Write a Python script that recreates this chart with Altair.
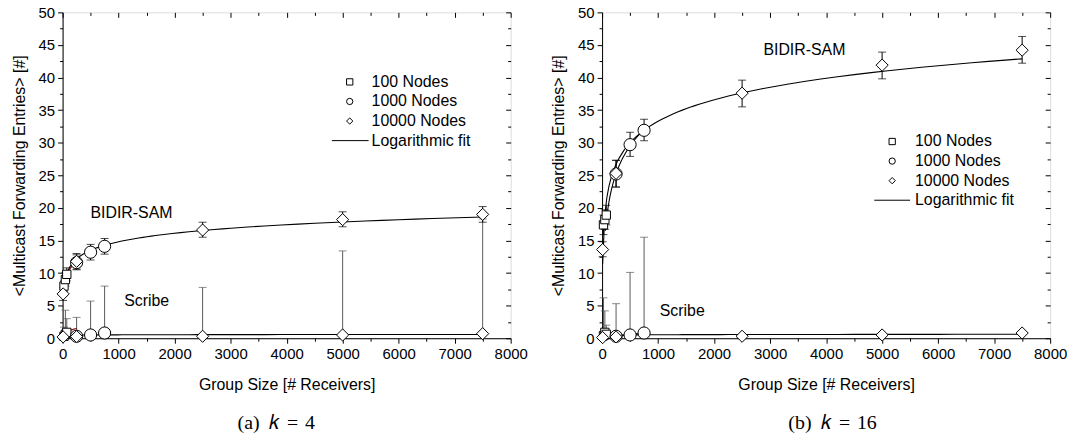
import altair as alt
import pandas as pd

# ---------------- data ----------------
SERIES = ["100 Nodes", "1000 Nodes", "10000 Nodes"]
SHAPES = ["square", "circle", "diamond"]
FIT_LABEL = "Logarithmic fit"

# panel (a) k = 4 : BIDIR-SAM
A_BIDIR = {
    "100 Nodes":   dict(x=[25, 50, 75], y=[8.0, 9.0, 9.8], lo=[7.2, 8.0, 8.8], hi=[8.8, 10.0, 10.8]),
    "1000 Nodes":  dict(x=[250, 500, 750], y=[11.6, 13.2, 14.1], lo=[10.5, 12.0, 12.9], hi=[12.8, 14.4, 15.3]),
    "10000 Nodes": dict(x=[10, 250, 2500, 5000, 7500], y=[6.8, 11.8, 16.6, 18.2, 19.0],
                        lo=[5.8, 10.6, 15.5, 17.1, 17.8], hi=[7.8, 13.0, 17.8, 19.4, 20.2]),
}
# panel (a) k = 4 : Scribe
A_SCRIBE = {
    "100 Nodes":   dict(x=[25, 50, 75], y=[0.3, 0.6, 0.9], hi=[1.7, 4.3, 3.0]),
    "1000 Nodes":  dict(x=[250, 500, 750], y=[0.3, 0.5, 0.8], hi=[None, 5.7, 8.0]),
    "10000 Nodes": dict(x=[10, 250, 2500, 5000, 7500], y=[0.2, 0.25, 0.3, 0.5, 0.7],
                        hi=[None, 3.2, 7.8, 13.4, 18.3]),
}
# panel (b) k = 16 : BIDIR-SAM
B_BIDIR = {
    "100 Nodes":   dict(x=[25, 50, 75], y=[17.4, 18.2, 18.9], lo=[15.9, 16.7, 17.4], hi=[18.9, 19.7, 20.4]),
    "1000 Nodes":  dict(x=[250, 500, 750], y=[25.2, 29.7, 31.9], lo=[23.2, 27.9, 30.3], hi=[27.3, 31.6, 33.6]),
    "10000 Nodes": dict(x=[10, 250, 2500, 5000, 7500], y=[13.6, 25.3, 37.6, 41.9, 44.2],
                        lo=[12.5, 23.2, 35.5, 39.8, 42.2], hi=[14.8, 27.3, 39.6, 43.9, 46.3]),
}
# panel (b) k = 16 : Scribe
B_SCRIBE = {
    "100 Nodes":   dict(x=[25, 50, 75], y=[0.4, 0.9, 0.6], hi=[6.2, 4.2, 2.0]),
    "1000 Nodes":  dict(x=[250, 500, 750], y=[0.3, 0.5, 0.8], hi=[None, 10.1, 15.5]),
    "10000 Nodes": dict(x=[10, 250, 2500, 5000, 7500], y=[0.1, 0.2, 0.3, 0.5, 0.8],
                        hi=[None, 5.3, None, None, None]),
}

A_TEXT = dict(label=["BIDIR-SAM", "Scribe"], x=[498, 1100], y=[19.2, 5.7])
B_TEXT = dict(label=["BIDIR-SAM", "Scribe"], x=[2880, 1030], y=[44.2, 4.2])

X_MAJOR = list(range(0, 8001, 1000))
X_MINOR = list(range(500, 8000, 1000))
Y_MAJOR = list(range(0, 51, 5))
Y_MINOR = [v + 2.5 for v in range(0, 50, 5)]

FONT = "Liberation Sans"


def to_frame(bidir, scribe):
    rows = []
    for s in SERIES:
        d = bidir[s]
        for i in range(len(d["x"])):
            rows.append(dict(group="BIDIR-SAM", series=s, x=d["x"][i], y=d["y"][i],
                             lo=d["lo"][i], hi=d["hi"][i]))
        d = scribe[s]
        for i in range(len(d["x"])):
            rows.append(dict(group="Scribe", series=s, x=d["x"][i], y=d["y"][i],
                             lo=d["y"][i], hi=d["hi"][i]))
    return pd.DataFrame(rows)


def legend_layers(leg):
    """Legend box drawn inside the plot (pixel layout of the key, not data)."""
    layers = []
    one = pd.DataFrame({"k": [0]})
    for i, (s, shp) in enumerate(zip(SERIES, SHAPES)):
        yy = leg["y0"] + i * leg["dy"]
        layers.append(alt.Chart(one).mark_point(
            shape=shp, size=40, filled=False, fill="white", color="black", strokeWidth=1, opacity=1
        ).encode(x=alt.value(leg["sym_x"]), y=alt.value(yy)))
        layers.append(alt.Chart(one).mark_text(
            align="left", baseline="middle", font=FONT, fontSize=16, color="black"
        ).encode(x=alt.value(leg["lab_x"]), y=alt.value(yy), text=alt.value(s)))
    yy = leg["y0"] + 3 * leg["dy"]
    layers.append(alt.Chart(one).mark_rule(color="black", strokeWidth=1).encode(
        x=alt.value(leg["line_x0"]), x2=alt.value(leg["line_x1"]), y=alt.value(yy)))
    layers.append(alt.Chart(one).mark_text(
        align="left", baseline="middle", font=FONT, fontSize=16, color="black"
    ).encode(x=alt.value(leg["lab_x"]), y=alt.value(yy), text=alt.value(FIT_LABEL)))
    return layers


def panel(bidir, scribe, texts, leg, extra_fit, caption, cap_dx):
    df = to_frame(bidir, scribe)
    tdf = pd.DataFrame(texts)
    xs = alt.Scale(domain=[0, 8000], nice=False, zero=False)
    ys = alt.Scale(domain=[0, 50], nice=False, zero=False)
    base = alt.Chart(df)

    x_na = alt.X("x:Q", scale=xs, axis=None)

    def yq(field):
        return alt.Y(field, type="quantitative", scale=ys, axis=None)

    bid = base.transform_filter("datum.group == 'BIDIR-SAM'")
    scr = base.transform_filter("datum.group == 'Scribe' && isValid(datum.hi)")

    err_b = bid.mark_rule(color="black", strokeWidth=1).encode(x=x_na, y=yq("lo"), y2="hi:Q")
    cap_b_hi = bid.mark_tick(orient="horizontal", size=8, thickness=1, color="black").encode(
        x=x_na, y=yq("hi"))
    cap_b_lo = bid.mark_tick(orient="horizontal", size=8, thickness=1, color="black").encode(
        x=x_na, y=yq("lo"))
    err_s = scr.mark_rule(color="#5a5a5a", strokeWidth=1).encode(x=x_na, y=yq("lo"), y2="hi:Q")
    cap_s = scr.mark_tick(orient="horizontal", size=8, thickness=1, color="#5a5a5a").encode(
        x=x_na, y=yq("hi"))

    fit = base.transform_regression(
        "x", "y", method="log", groupby=["group"], extent=[10, 7500]
    ).mark_line(strokeWidth=1.1, color="black").encode(x=x_na, y=yq("y"), detail="group:N")
    xf_series, xf_ext, xf_color = extra_fit
    fit2 = base.transform_filter(alt.datum.series == xf_series).transform_regression(
        "x", "y", method="log", groupby=["group"], extent=xf_ext
    ).mark_line(strokeWidth=1.1, color=xf_color).encode(x=x_na, y=yq("y"), detail="group:N")

    shape_enc = alt.Shape("series:N", scale=alt.Scale(domain=SERIES, range=SHAPES), legend=None)
    pts_small = base.transform_filter(alt.datum.series == "100 Nodes").mark_point(
        filled=False, fill="white", color="black", strokeWidth=1, opacity=1, size=70
    ).encode(x=x_na, y=yq("y"), shape=shape_enc)
    pts_big = base.transform_filter(alt.datum.series != "100 Nodes").mark_point(
        filled=False, fill="white", color="black", strokeWidth=1, opacity=1, size=150
    ).encode(x=x_na, y=yq("y"), shape=shape_enc)

    txt = alt.Chart(tdf).mark_text(align="left", baseline="middle", font=FONT, fontSize=16,
                                   color="black").encode(x=x_na, y=yq("y"), text="label:N")

    data_layer = alt.layer(err_s, cap_s, err_b, cap_b_hi, cap_b_lo, fit, fit2, pts_small, pts_big, txt,
                           *legend_layers(leg))

    def axis_layer(xa, ya):
        return alt.Chart(df).mark_point(opacity=0).encode(
            x=alt.X("x:Q", scale=xs, axis=xa), y=alt.Y("y:Q", scale=ys, axis=ya))

    main = axis_layer(
        alt.Axis(orient="bottom", format="d",
                 values=X_MAJOR, tickSize=5, tickColor="black", domainColor="black", grid=False,
                 labelFont=FONT, labelFontSize=15, labelColor="black", labelPadding=3, labelFlush=False,
                 title="Group Size [# Receivers]", titleFont=FONT, titleFontSize=16,
                 titleFontWeight="normal", titleColor="black", titlePadding=16),
        alt.Axis(orient="left", format="d",
                 values=Y_MAJOR, tickSize=5, tickColor="black", domainColor="black", grid=False,
                 labelFont=FONT, labelFontSize=15, labelColor="black", labelPadding=3,
                 title="<Multicast Forwarding Entries> [#]", titleFont=FONT, titleFontSize=16,
                 titleFontWeight="normal", titleColor="black", titlePadding=11))

    common = dict(labels=False, domain=False, title=None, grid=False, tickColor="black")
    minor_bl = axis_layer(alt.Axis(orient="bottom", values=X_MINOR, tickSize=3, **common),
                          alt.Axis(orient="left", values=Y_MINOR, tickSize=3, **common))
    major_tr = axis_layer(alt.Axis(orient="top", values=X_MAJOR, tickSize=5, offset=-5, **common),
                          alt.Axis(orient="right", values=Y_MAJOR, tickSize=5, offset=-5, **common))
    minor_tr = axis_layer(alt.Axis(orient="top", values=X_MINOR, tickSize=3, offset=-3, **common),
                          alt.Axis(orient="right", values=Y_MINOR, tickSize=3, offset=-3, **common))

    return alt.layer(main, minor_bl, major_tr, minor_tr, data_layer).resolve_axis(
        x="independent", y="independent"
    ).properties(
        width=451, height=328,
        title=alt.TitleParams(caption, orient="bottom", font="Liberation Serif", fontSize=20,
                              fontWeight="normal", color="black", anchor="middle", frame="bounds",
                              offset=20, dx=cap_dx),
    )


LEG_A = dict(sym_x=289, lab_x=311, y0=70, dy=19.7, line_x0=271, line_x1=308)
LEG_B = dict(sym_x=292, lab_x=315, y0=130, dy=19.7, line_x0=274, line_x1=310)

CAP_A = "(a)\u2002\U0001D458\u2004=\u20044"
CAP_B = "(b)\u2002\U0001D458\u2004=\u200416"

pa = panel(A_BIDIR, A_SCRIBE, A_TEXT, LEG_A, ("100 Nodes", [10, 250], "#8b0000"), CAP_A, 7)
pb = panel(B_BIDIR, B_SCRIBE, B_TEXT, LEG_B, ("1000 Nodes", [60, 750], "black"), CAP_B, 24)

chart = alt.hconcat(pa, pb, spacing=21).properties(
    padding={"left": 10, "top": 3, "right": 5, "bottom": 5},
    background="white",
).configure_view(stroke="black", strokeWidth=1).configure(font=FONT)

chart.save("out.html", embed_options={"renderer": "svg", "actions": False})
